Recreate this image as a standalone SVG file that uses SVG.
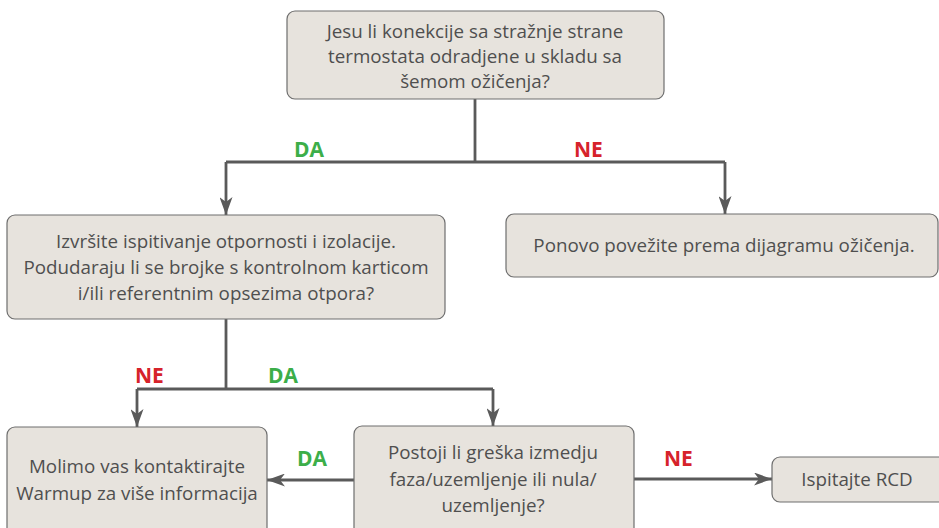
<svg xmlns="http://www.w3.org/2000/svg" width="939" height="528" viewBox="0 0 939 528">
<style>
.box{fill:#e7e3dd;stroke:#6e6e6e;stroke-width:1.2}
.t{font-family:"Open Sans","Liberation Sans",sans-serif;font-size:18.8px;fill:#4f4f4f;text-anchor:middle}
.lbl{font-family:"Open Sans","Liberation Sans",sans-serif;font-size:21px;font-weight:bold}
.da{fill:#3cae49}
.ne{fill:#d6232b}
.ln{fill:none;stroke:#5a5a5a;stroke-width:2.8}
</style>
<defs>
<marker id="ah" viewBox="0 0 18 13" refX="18" refY="6.5" markerWidth="18" markerHeight="13" orient="auto" markerUnits="userSpaceOnUse">
<path d="M0,0 L18,6.5 L0,13 L5,6.5 Z" fill="#5a5a5a"/>
</marker>
</defs>
<g id="connectors">
<path class="ln" d="M475,99 V162"/>
<path class="ln" d="M226,162 H725"/>
<path class="ln" d="M226,162 V215" marker-end="url(#ah)"/>
<path class="ln" d="M725,162 V214" marker-end="url(#ah)"/>
<path class="ln" d="M226,319 V389"/>
<path class="ln" d="M137,389 H493"/>
<path class="ln" d="M137,389 V427" marker-end="url(#ah)"/>
<path class="ln" d="M493,389 V426" marker-end="url(#ah)"/>
<path class="ln" d="M354,480 H267" marker-end="url(#ah)"/>
<path class="ln" d="M634,479 H772" marker-end="url(#ah)"/>
<text class="lbl da" x="294" y="157">DA</text>
<text class="lbl ne" x="574" y="157">NE</text>
<text class="lbl ne" x="135" y="383">NE</text>
<text class="lbl da" x="268" y="383">DA</text>
<text class="lbl da" x="297" y="466">DA</text>
<text class="lbl ne" x="664" y="466">NE</text>
</g>
<g id="q1">
<rect class="box" x="287" y="11" width="377" height="88" rx="8"/>
<text class="t" x="475" y="38">Jesu li konekcije sa stražnje strane</text>
<text class="t" x="475" y="63">termostata odradjene u skladu sa</text>
<text class="t" x="475" y="88">šemom ožičenja?</text>
</g>
<g id="q2">
<rect class="box" x="7" y="215" width="438" height="104" rx="8"/>
<text class="t" x="226" y="248">Izvršite ispitivanje otpornosti i izolacije.</text>
<text class="t" x="226" y="274">Podudaraju li se brojke s kontrolnom karticom</text>
<text class="t" x="226" y="300">i/ili referentnim opsezima otpora?</text>
</g>
<g id="rewire">
<rect class="box" x="506" y="214" width="432" height="63" rx="8"/>
<text class="t" x="724" y="252">Ponovo povežite prema dijagramu ožičenja.</text>
</g>
<g id="contact">
<rect class="box" x="7" y="427" width="260" height="110" rx="8"/>
<text class="t" x="137" y="473">Molimo vas kontaktirajte</text>
<text class="t" x="137" y="500">Warmup za više informacija</text>
</g>
<g id="q3">
<rect class="box" x="354" y="426" width="280" height="110" rx="8"/>
<text class="t" x="493" y="459">Postoji li greška izmedju</text>
<text class="t" x="493" y="486">faza/uzemljenje ili nula/</text>
<text class="t" x="493" y="512">uzemljenje?</text>
</g>
<g id="rcd">
<rect class="box" x="772" y="457" width="175" height="45" rx="8"/>
<text class="t" x="857" y="486">Ispitajte RCD</text>
</g>
</svg>
